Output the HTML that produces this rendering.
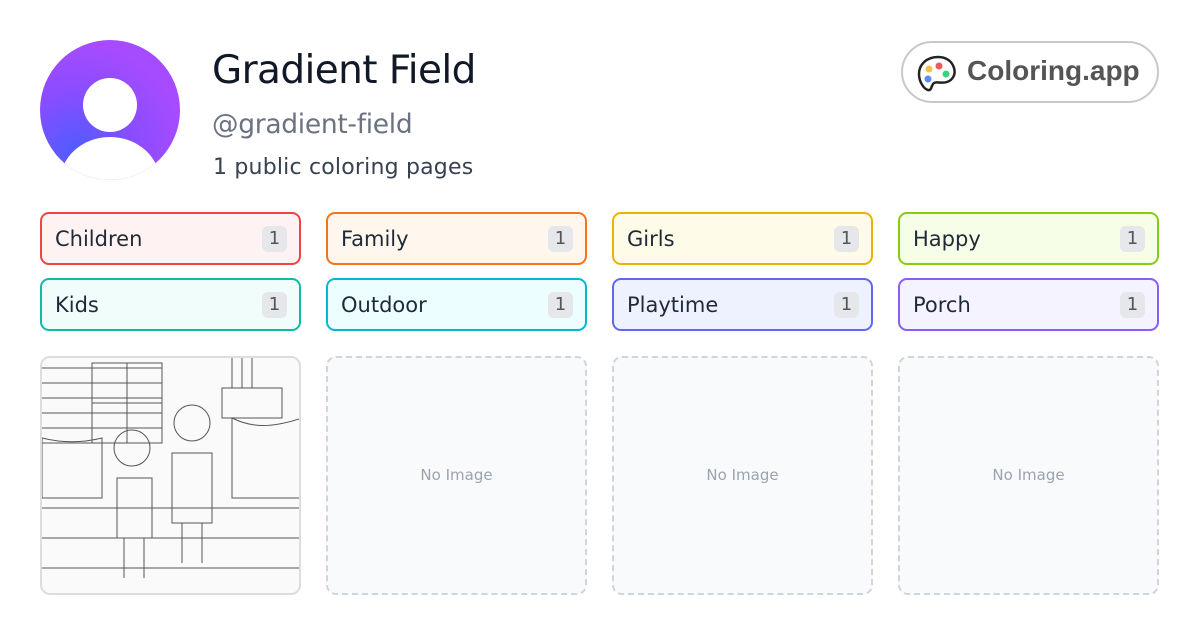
<!DOCTYPE html>
<html><head><meta charset="utf-8"><style>
*{box-sizing:border-box;margin:0;padding:0}
body{width:1200px;height:630px;background:#fff;font-family:"DejaVu Sans","Liberation Sans",sans-serif;position:relative;overflow:hidden}
.av{position:absolute;left:40px;top:40px;width:140px;height:140px;border-radius:50%;overflow:hidden;background:radial-gradient(circle at 25% 80%,#4f5cff 0%,#8a4dff 40%,#a64bff 70%)}
.head{position:absolute;left:43px;top:38px;width:54px;height:54px;border-radius:50%;background:#fff}
.body{position:absolute;left:20px;top:97px;width:100px;height:90px;border-radius:50%;background:#fff}
h1{position:absolute;left:212px;top:48px;font-size:39px;font-weight:400;color:#111827;letter-spacing:-0.6px}
.h{position:absolute;left:212px;top:109px;font-size:26.5px;color:#6b7280;letter-spacing:-0.3px}
.c{position:absolute;left:213px;top:155px;font-size:22px;color:#374151;letter-spacing:0.2px}
.logo{position:absolute;left:901px;top:41px;width:258px;height:62px;border:2px solid #c8c8c8;border-radius:31px}
.logo span{position:absolute;left:64px;top:12px;font-family:"Liberation Sans",sans-serif;font-weight:bold;font-size:28px;color:#555}
.tag{position:absolute;width:261px;height:53px;border:2px solid;border-radius:9px;font-size:21px;color:#1f2937;padding:13px 0 0 13px}
.tag b{position:absolute;right:12px;top:12px;width:25px;height:26px;border-radius:6px;background:#e5e7eb;font-weight:400;font-size:18px;color:#555;text-align:center;line-height:26px}
.card{position:absolute;top:356px;width:261px;height:239px;border:2px dashed #d1d5db;border-radius:10px;background:#f9fafb;font-size:15px;color:#9ca3af;text-align:center;line-height:235px}
.img{position:absolute;left:40px;top:356px;width:261px;height:239px;border:2px solid #ddd;border-radius:10px;overflow:hidden;background:#fafafa}
</style></head><body>
<div class="av"><div class="head"></div><div class="body"></div></div>
<h1>Gradient Field</h1>
<div class="h">@gradient-field</div>
<div class="c">1 public coloring pages</div>
<div class="logo">
<svg width="50" height="50" style="position:absolute;left:10px;top:6px" viewBox="0 0 50 50">
<path d="M25 8C13 8 6 16 6 25c0 8 5 15 9 16 4 1 3-5 6-7 3-2 7 1 13-1 6-2 9-8 7-14C39 12 33 8 25 8z" fill="none" stroke="#222" stroke-width="2.5"/>
<circle cx="16" cy="20" r="3.5" fill="#f5c242"/><circle cx="26" cy="17" r="3.5" fill="#ef5b5b"/><circle cx="15" cy="30" r="3.5" fill="#5b8def"/><circle cx="33" cy="25" r="3.5" fill="#3fcf7f"/></svg>
<span>Coloring.app</span></div>

<div class="tag" style="left:40px;top:212px;border-color:#ef4444;background:#fef2f2">Children<b>1</b></div>
<div class="tag" style="left:326px;top:212px;border-color:#f97316;background:#fff7ed">Family<b>1</b></div>
<div class="tag" style="left:612px;top:212px;border-color:#eab308;background:#fefce8">Girls<b>1</b></div>
<div class="tag" style="left:898px;top:212px;border-color:#84cc16;background:#f7fee7">Happy<b>1</b></div>
<div class="tag" style="left:40px;top:278px;border-color:#14b8a6;background:#f0fdfa">Kids<b>1</b></div>
<div class="tag" style="left:326px;top:278px;border-color:#06b6d4;background:#ecfeff">Outdoor<b>1</b></div>
<div class="tag" style="left:612px;top:278px;border-color:#6366f1;background:#eef2ff">Playtime<b>1</b></div>
<div class="tag" style="left:898px;top:278px;border-color:#8b5cf6;background:#f5f3ff">Porch<b>1</b></div>

<div class="img"><svg width="261" height="239" viewBox="0 0 261 239">
<g stroke="#555" fill="none" stroke-width="1">
<path d="M0 10h120M0 25h120M0 40h120M0 55h120M0 70h120M0 85h120"/>
<rect x="50" y="5" width="70" height="80"/><path d="M85 5v80M50 45h70"/>
<path d="M180 30h60v30h-60z M190 0v30M200 0v30M210 0v30"/>
<path d="M190 60c20 10 40 10 70 0v80h-70z"/>
<path d="M0 150h261M0 180h261M0 210h261"/>
<circle cx="90" cy="90" r="18"/><circle cx="150" cy="65" r="18"/>
<path d="M75 120h35v60h-35z M130 95h40v70h-40z M82 180v40M102 180v40M140 165v40M160 165v40"/>
<path d="M0 80c20 5 40 5 60 0v60H0z"/>
</g></svg></div>
<div class="card" style="left:326px">No Image</div>
<div class="card" style="left:612px">No Image</div>
<div class="card" style="left:898px">No Image</div>
</body></html>
